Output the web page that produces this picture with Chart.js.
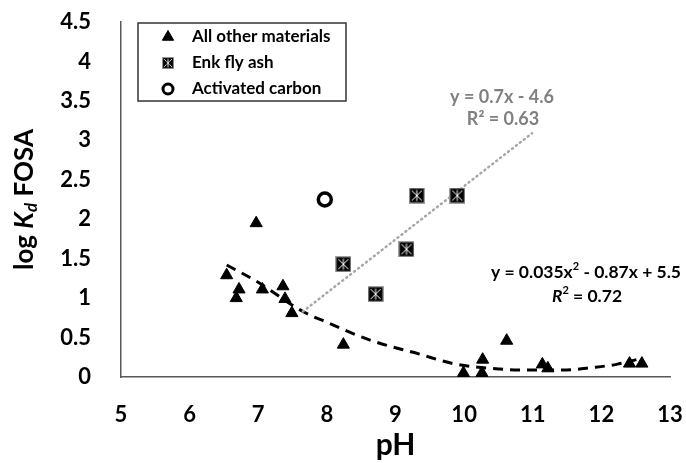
<!DOCTYPE html>
<html>
<head>
<meta charset="utf-8">
<script src="https://cdn.jsdelivr.net/npm/chart.js@4.4.0/dist/chart.umd.min.js"></script>
<style>
  html, body { margin: 0; padding: 0; background: #fff; }
  #wrap { width: 686px; height: 463px; }
</style>
</head>
<body>
<div id="wrap"><canvas id="kdChart"></canvas></div>
<script>
// values (x = pH, y = log Kd FOSA)
var otherPH = [6.54, 6.72, 6.68, 6.97, 7.06, 7.36, 7.39, 7.49, 8.24, 9.99, 10.27, 10.26, 10.62, 11.14, 11.22, 12.41, 12.59];
var otherKd = [1.29, 1.11, 1.00, 1.95, 1.11, 1.15, 0.99, 0.81, 0.41, 0.05, 0.22, 0.05, 0.46, 0.16, 0.11, 0.17, 0.17];
var enkPH = [8.24, 8.71, 9.16, 9.31, 9.90];
var enkKd = [1.43, 1.05, 1.62, 2.30, 2.30];
var carbonPH = [7.97];
var carbonKd = [2.25];
// trend lines as drawn in the figure
var linPH = [7.65, 10.99];
var linKd = [0.83, 3.09];
var quadPH = [6.54, 6.98, 7.65, 8.04, 8.62, 9.35, 9.84, 10.52, 10.81, 11.49, 11.87, 12.22, 12.51];
var quadKd = [1.42, 1.21, 0.83, 0.68, 0.47, 0.29, 0.17, 0.10, 0.09, 0.09, 0.12, 0.16, 0.22];
var legendLabels = ['All other materials', 'Enk fly ash', 'Activated carbon'];
var linEquation = ['y = 0.7x - 4.6', 'R² = 0.63'];
var quadEquation = ['y = 0.035x', '2', ' - 0.87x + 5.5', ' = 0.72'];

var FONT = 'Lato, "Open Sans", sans-serif';

function pairs(xs, ys) {
    return xs.map(function (x, i) { return { x: x, y: ys[i] }; });
}

// black square with a white asterisk, like the Enk fly ash marker
function makeEnkMarker() {
    var c = document.createElement('canvas');
    c.width = 16; c.height = 16;
    var g = c.getContext('2d');
    g.fillStyle = '#000';
    g.fillRect(0, 0, 16, 16);
    g.strokeStyle = '#a0a0a0';
    g.lineWidth = 1.2;
    g.strokeRect(0.6, 0.6, 14.8, 14.8);
    g.strokeStyle = '#fff';
    g.lineWidth = 1;
    g.beginPath();
    g.moveTo(3, 3); g.lineTo(13, 13);
    g.moveTo(13, 3); g.lineTo(3, 13);
    g.moveTo(8, 2.5); g.lineTo(8, 13.5);
    g.stroke();
    return c;
}
var enkMarker = makeEnkMarker();

var textPlugin = {
    id: 'textPlugin',
    afterDraw: function (chart) {
        var ctx = chart.ctx;
        var area = chart.chartArea;
        ctx.save();

        // y axis title: log K_d FOSA
        ctx.save();
        ctx.translate(25, (area.top + area.bottom) / 2);
        ctx.rotate(-Math.PI / 2);
        ctx.fillStyle = '#000';
        ctx.textBaseline = 'middle';
        var parts = [
            { t: 'log ', f: 'bold 26px ' + FONT, dy: 0 },
            { t: 'K', f: 'italic bold 26px ' + FONT, dy: 0 },
            { t: 'd', f: 'italic bold 17px ' + FONT, dy: 7 },
            { t: ' FOSA', f: 'bold 26px ' + FONT, dy: 0 }
        ];
        var total = 0;
        parts.forEach(function (p) { ctx.font = p.f; total += ctx.measureText(p.t).width; });
        var x = -total / 2;
        parts.forEach(function (p) {
            ctx.font = p.f;
            ctx.textAlign = 'left';
            ctx.fillText(p.t, x, p.dy);
            x += ctx.measureText(p.t).width;
        });
        ctx.restore();

        // x axis title
        ctx.font = 'bold 30px ' + FONT;
        ctx.fillStyle = '#000';
        ctx.textAlign = 'center';
        ctx.textBaseline = 'middle';
        ctx.fillText('pH', (area.left + area.right) / 2, 445);

        // linear trend equation
        ctx.font = 'bold 18px ' + FONT;
        ctx.fillStyle = '#808080';
        ctx.fillText(linEquation[0], 502, 97);
        ctx.fillText(linEquation[1], 503, 119);

        // quadratic trend equation
        ctx.fillStyle = '#000';
        ctx.textAlign = 'left';
        var q1 = 'bold 17.5px ' + FONT, qs = 'bold 11px ' + FONT;
        ctx.font = q1; var w1 = ctx.measureText(quadEquation[0]).width;
        ctx.font = qs; var w2 = ctx.measureText(quadEquation[1]).width;
        ctx.font = q1; var w3 = ctx.measureText(quadEquation[2]).width;
        var qx = 586 - (w1 + w2 + w3) / 2;
        ctx.font = q1; ctx.fillText(quadEquation[0], qx, 272);
        ctx.font = qs; ctx.fillText(quadEquation[1], qx + w1, 266);
        ctx.font = q1; ctx.fillText(quadEquation[2], qx + w1 + w2, 272);
        ctx.font = 'italic bold 17.5px ' + FONT; var wr = ctx.measureText('R').width;
        ctx.font = qs; var w22 = ctx.measureText('2').width;
        ctx.font = q1; var w4 = ctx.measureText(quadEquation[3]).width;
        var rx = 587 - (wr + w22 + w4) / 2;
        ctx.font = 'italic bold 17.5px ' + FONT; ctx.fillText('R', rx, 296);
        ctx.font = qs; ctx.fillText('2', rx + wr, 290);
        ctx.font = q1; ctx.fillText(quadEquation[3], rx + wr + w22, 296);

        // legend box
        ctx.strokeStyle = '#333';
        ctx.lineWidth = 1.5;
        ctx.strokeRect(138, 23, 208, 78);
        var rows = [37, 63, 89];
        var styles = [
            { pointStyle: 'triangle', radius: 6.5, borderWidth: 1, fill: '#000', stroke: '#000' },
            { pointStyle: enkMarker, radius: 7, borderWidth: 0, fill: '#000', stroke: '#000' },
            { pointStyle: 'circle', radius: 5, borderWidth: 3, fill: '#fff', stroke: '#000' }
        ];
        ctx.font = 'bold 17px ' + FONT;
        ctx.textBaseline = 'middle';
        legendLabels.forEach(function (label, i) {
            var s = styles[i];
            ctx.fillStyle = s.fill;
            ctx.strokeStyle = s.stroke;
            ctx.lineWidth = s.borderWidth;
            if (s.pointStyle === enkMarker) {
                ctx.drawImage(enkMarker, 168 - 6, rows[i] - 6, 12, 12);
            } else {
                Chart.helpers.drawPoint(ctx, { pointStyle: s.pointStyle, radius: s.radius, borderWidth: s.borderWidth, rotation: 0 }, 168, rows[i]);
            }
            ctx.fillStyle = '#000';
            ctx.textAlign = 'left';
            ctx.fillText(label, 192, rows[i]);
        });
        ctx.restore();
    }
};

var ctx = document.getElementById('kdChart');
new Chart(ctx, {
    type: 'scatter',
    data: {
        datasets: [
            {
                label: legendLabels[0],
                data: pairs(otherPH, otherKd),
                pointStyle: 'triangle',
                pointRadius: 7,
                backgroundColor: '#000',
                borderColor: '#000',
                borderWidth: 1
            },
            {
                label: legendLabels[1],
                data: pairs(enkPH, enkKd),
                pointStyle: enkMarker,
                pointRadius: 8
            },
            {
                label: legendLabels[2],
                data: pairs(carbonPH, carbonKd),
                pointStyle: 'circle',
                pointRadius: 6.5,
                backgroundColor: '#fff',
                borderColor: '#000',
                borderWidth: 3.5
            },
            {
                label: 'linear trend',
                data: pairs(linPH, linKd),
                showLine: true,
                pointRadius: 0,
                borderColor: '#a6a6a6',
                borderWidth: 2.5,
                borderDash: [1, 4],
                borderCapStyle: 'round'
            },
            {
                label: 'quadratic trend',
                data: pairs(quadPH, quadKd),
                showLine: true,
                pointRadius: 0,
                borderColor: '#000',
                borderWidth: 3,
                borderDash: [10, 7],
                cubicInterpolationMode: 'monotone'
            }
        ]
    },
    options: {
        responsive: true,
        maintainAspectRatio: false,
        animation: false,
        layout: { padding: { top: 22, right: 16, left: 0, bottom: 0 } },
        plugins: {
            legend: { display: false },
            tooltip: { enabled: false }
        },
        scales: {
            x: {
                type: 'linear',
                min: 5,
                max: 13,
                grid: { display: false },
                border: { display: true, color: '#595959', width: 1.5 },
                ticks: {
                    stepSize: 1,
                    color: '#000',
                    padding: 17,
                    font: { family: FONT, size: 22, weight: 'bold' }
                },
                afterFit: function (scale) {
                    scale.height = 86;
                    scale.paddingLeft = 0;
                    scale.paddingRight = 0;
                }
            },
            y: {
                min: 0,
                max: 4.5,
                grid: { display: false },
                border: { display: true, color: '#595959', width: 1.5 },
                ticks: {
                    stepSize: 0.5,
                    color: '#000',
                    padding: 22,
                    font: { family: FONT, size: 22, weight: 'bold' },
                    callback: function (value) { return String(Number(value)); }
                },
                afterFit: function (scale) {
                    scale.width = 121;
                    scale.paddingTop = 0;
                    scale.paddingBottom = 0;
                }
            }
        }
    },
    plugins: [textPlugin]
});
</script>
</body>
</html>
